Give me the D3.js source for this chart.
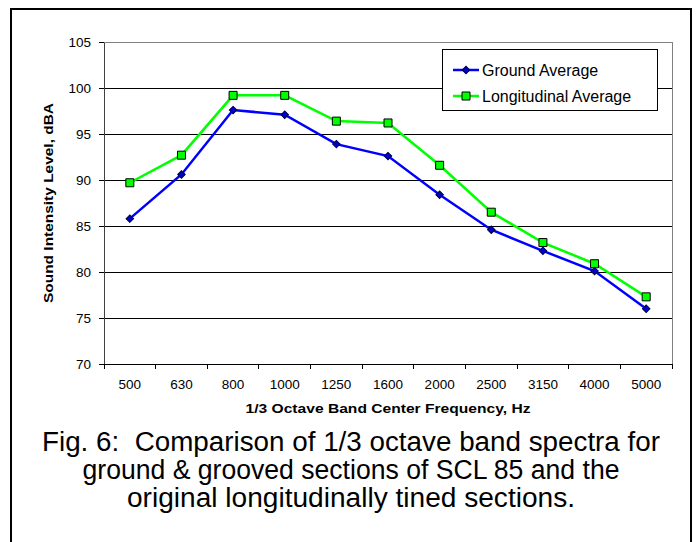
<!DOCTYPE html>
<html><head><meta charset="utf-8">
<script src="https://cdn.jsdelivr.net/npm/d3@7"></script>
<style>body{margin:0;background:#fff}svg{display:block}text{white-space:pre}</style>
</head><body>
<script>
const categories = ["500","630","800","1000","1250","1600","2000","2500","3150","4000","5000"];
const groundAvg = [85.8, 90.6, 97.6, 97.1, 93.9, 92.6, 88.4, 84.6, 82.3, 80.1, 76.0];
const longAvg   = [89.7, 92.7, 99.2, 99.2, 96.4, 96.2, 91.6, 86.5, 83.2, 80.9, 77.3];
const yTicks = [70, 75, 80, 85, 90, 95, 100, 105];
const seriesNames = ["Ground Average", "Longitudinal Average"];
const captionLines = ["Fig. 6:  Comparison of 1/3 octave band spectra for","ground & grooved sections of SCL 85 and the","original longitudinally tined sections."];

const W = 698, H = 542;
const font = "'Liberation Sans', Arial, sans-serif";
const svg = d3.select("body").append("svg").attr("width", W).attr("height", H);
svg.append("rect").attr("width", W).attr("height", H).attr("fill", "#fff");
// outer frame
svg.append("rect").attr("x", 11).attr("y", 9).attr("width", 680).attr("height", 540)
  .attr("fill", "none").attr("stroke", "#000").attr("stroke-width", 2);

const pL = 104, pR = 672, pT = 42, pB = 364;
const x = d3.scaleBand().domain(categories).range([pL, pR]).padding(0);
const y = d3.scaleLinear().domain([70, 105]).range([pB, pT]);

// gridlines
svg.append("g").selectAll("line").data(yTicks.filter(v => v > 70 && v < 105)).join("line")
  .attr("x1", pL).attr("x2", pR).attr("y1", d => y(d)).attr("y2", d => y(d))
  .attr("stroke", "#000").attr("stroke-width", 1).attr("shape-rendering", "crispEdges");
// plot border top/right
svg.append("path").attr("d", `M${pL},${pT}H${pR}V${pB}`).attr("fill", "none")
  .attr("stroke", "#808080").attr("stroke-width", 1).attr("shape-rendering", "crispEdges");

// y axis
const yAxis = svg.append("g").attr("transform", `translate(${pL},0)`)
  .call(d3.axisLeft(y).tickValues(yTicks).tickSize(5).tickPadding(8).tickSizeOuter(0));
yAxis.select(".domain").attr("stroke", "#404040").attr("shape-rendering", "crispEdges");
yAxis.selectAll(".tick line").attr("stroke", "#000").attr("shape-rendering", "crispEdges");
yAxis.selectAll("text").attr("font-family", font).attr("font-size", 13.5).attr("fill", "#000");

// x axis
const xAxis = svg.append("g").attr("transform", `translate(0,${pB})`)
  .call(d3.axisBottom(x).tickSize(0).tickPadding(15));
xAxis.select(".domain").attr("stroke", "#000").attr("shape-rendering", "crispEdges");
xAxis.selectAll("text").attr("font-family", font).attr("font-size", 13.5).attr("fill", "#000");
// category separator ticks
const edges = categories.map(c => x(c)).concat([pR]);
svg.append("g").selectAll("line").data(edges).join("line")
  .attr("x1", d => d).attr("x2", d => d).attr("y1", pB).attr("y2", pB + 5)
  .attr("stroke", "#000").attr("shape-rendering", "crispEdges");

// axis titles
svg.append("text").attr("x", 388).attr("y", 413).attr("text-anchor", "middle")
  .attr("font-family", font).attr("font-size", 13.5).attr("font-weight", "bold")
  .attr("textLength", 285).attr("lengthAdjust", "spacingAndGlyphs")
  .text("1/3 Octave Band Center Frequency, Hz");
svg.append("text").attr("transform", `translate(53,${(pT + pB) / 2}) rotate(-90)`)
  .attr("text-anchor", "middle").attr("font-family", font).attr("font-size", 13.5).attr("font-weight", "bold")
  .attr("textLength", 200).attr("lengthAdjust", "spacingAndGlyphs")
  .text("Sound Intensity Level, dBA");

const cx = d => x(d) + x.bandwidth() / 2;
const line = d3.line().x((d, i) => cx(categories[i])).y(d => y(d));

svg.append("path").datum(longAvg).attr("d", line).attr("fill", "none").attr("stroke", "#00ff00").attr("stroke-width", 2.5);
svg.append("path").datum(groundAvg).attr("d", line).attr("fill", "none").attr("stroke", "#0000ff").attr("stroke-width", 2.5);

const sq = d3.symbol().type(d3.symbolSquare).size(64);
const dia = d3.symbol().type(d3.symbolSquare).size(28);
svg.append("g").selectAll("path").data(longAvg).join("path")
  .attr("transform", (d, i) => `translate(${cx(categories[i])},${y(d)})`).attr("d", sq)
  .attr("fill", "#00ff00").attr("stroke", "#000").attr("stroke-width", 1);
svg.append("g").selectAll("path").data(groundAvg).join("path")
  .attr("transform", (d, i) => `translate(${cx(categories[i])},${y(d)}) rotate(45)`).attr("d", dia)
  .attr("fill", "#0000cc").attr("stroke", "#000040").attr("stroke-width", 1);

// legend
const lg = svg.append("g");
lg.append("rect").attr("x", 442.5).attr("y", 49.5).attr("width", 215).attr("height", 61)
  .attr("fill", "#fff").attr("stroke", "#000").attr("stroke-width", 1);
const ly = [70, 96];
lg.append("line").attr("x1", 453).attr("x2", 479).attr("y1", ly[0]).attr("y2", ly[0]).attr("stroke", "#0000ff").attr("stroke-width", 2.5);
lg.append("path").attr("transform", `translate(466,${ly[0]}) rotate(45)`).attr("d", dia).attr("fill", "#0000cc").attr("stroke", "#000040");
lg.append("line").attr("x1", 453).attr("x2", 479).attr("y1", ly[1]).attr("y2", ly[1]).attr("stroke", "#00ff00").attr("stroke-width", 2.5);
lg.append("path").attr("transform", `translate(466,${ly[1]})`).attr("d", sq).attr("fill", "#00ff00").attr("stroke", "#000");
lg.selectAll("text").data(seriesNames).join("text")
  .attr("x", 482).attr("y", (d, i) => ly[i] + 6).attr("font-family", font).attr("font-size", 16).text(d => d);

// caption
const capW = [618, 537, 448];
svg.append("g").selectAll("text").data(captionLines).join("text")
  .attr("x", 351).attr("y", (d, i) => 451 + i * 28).attr("text-anchor", "middle")
  .attr("font-family", font).attr("font-size", 27)
  .attr("textLength", (d, i) => capW[i]).attr("lengthAdjust", "spacingAndGlyphs")
  .text(d => d);
</script>
</body></html>
